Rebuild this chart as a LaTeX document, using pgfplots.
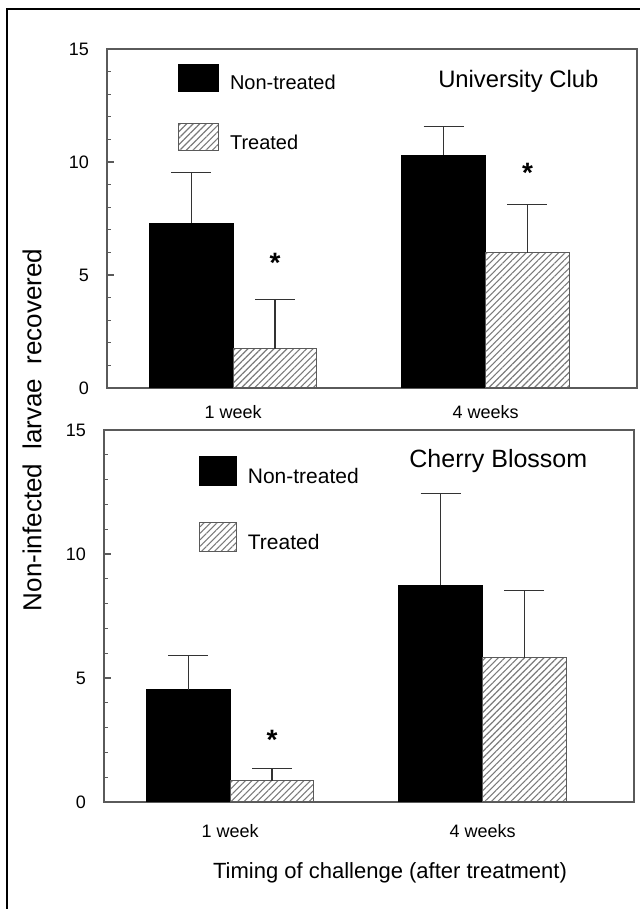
\documentclass[border=0pt]{standalone}
\usepackage{fontspec}
\setmainfont{Liberation Sans}
\usepackage{pgfplots}
\pgfplotsset{compat=1.18}
\usetikzlibrary{patterns.meta}
\definecolor{axgray}{HTML}{5A5A5A}
\definecolor{errgray}{HTML}{333333}
\definecolor{hatch}{HTML}{7A7A7A}
\pgfplotsset{
  panel/.style={
    scale only axis, width=265pt,
    xmin=0.5, xmax=2.6, ymin=0, ymax=15,
    xtick={1,2}, xticklabels={1 week,4 weeks},
    major x tick style={draw=none},
    ytick={0,5,10,15}, minor ytick={1,2,3,4,6,7,8,9,11,12,13,14},
    ytick pos=left, tick align=inside,
    major tick length=3.5pt, minor tick length=2pt,
    every tick/.style={axgray, line width=0.6pt},
    axis line style={axgray, line width=0.7pt},
    tick label style={font=\fontsize{9}{10}\selectfont},
    /pgf/number format/assume math mode=true,
    yticklabel style={xshift=-5.5pt},
    legend style={draw=none, fill=none, anchor=north west, inner sep=0pt, outer sep=0pt,
      legend cell align=left},
  },
  legtop/.style={legend image code/.code={\draw[##1] (0pt,-3.65pt) rectangle (20pt,9.85pt); \path (23.5pt,0pt);}},
  legbot/.style={legend image code/.code={\draw[##1] (0pt,-4pt) rectangle (18.5pt,10.5pt); \path (22pt,0pt);}},
  nt/.style={fill=black, draw=black, ybar, bar width=0.332, bar shift=0pt,
    error bars/.cd, y dir=plus, y explicit,
    error bar style={errgray, line width=0.6pt},
    error mark options={rotate=90, mark size=10pt, errgray, line width=0.6pt}},
  tr/.style={draw=axgray, line width=0.5pt,
    pattern={Lines[angle=45,distance=2.3pt,line width=0.55pt]}, pattern color=hatch,
    ybar, bar width=0.332, bar shift=0pt,
    error bars/.cd, y dir=plus, y explicit,
    error bar style={errgray, line width=0.6pt},
    error mark options={rotate=90, mark size=10pt, errgray, line width=0.6pt}},
}
\begin{document}
\begin{tikzpicture}
\useasboundingbox (0,0) rectangle (320pt,454.5pt);
\draw[line width=1.2pt] (3.5pt,0) -- (3.5pt,450pt) -- (320pt,450pt);

% ---------- top panel ----------
\begin{axis}[panel, at={(53.5pt,260.5pt)}, anchor=south west, height=169.5pt,
  xticklabel style={yshift=-5.2pt},
  legend style={at={(0.134,0.956)}, row sep=13.2pt, font=\fontsize{10}{12}\selectfont}]
\addplot[legtop, nt]
  coordinates {(0.834,7.29) +- (0,2.23) (1.834,10.30) +- (0,1.28)};
\addlegendentry{Non-treated}
\addplot[legtop, tr]
  coordinates {(1.166,1.73) +- (0,2.18) (2.166,5.99) +- (0,2.13)};
\addlegendentry{Treated}
\node[font=\fontsize{14}{14}\selectfont\bfseries, inner sep=0pt] at (axis cs:1.166,5.55) {*};
\node[font=\fontsize{14}{14}\selectfont\bfseries, inner sep=0pt] at (axis cs:2.166,9.52) {*};
\node[font=\fontsize{11.9}{13}\selectfont, anchor=base, inner sep=0pt] at (axis description cs:0.776,0.885) {University Club};
\end{axis}

% ---------- bottom panel ----------
\begin{axis}[panel, at={(52pt,53.5pt)}, anchor=south west, height=186pt,
  xticklabel style={yshift=-7.7pt},
  legend style={at={(0.179,0.929)}, row sep=15.7pt, font=\fontsize{10.5}{12}\selectfont}]
\addplot[legbot, nt]
  coordinates {(0.834,4.53) +- (0,1.39) (1.834,8.73) +- (0,3.71)};
\addlegendentry{Non-treated}
\addplot[legbot, tr]
  coordinates {(1.166,0.85) +- (0,0.50) (2.166,5.82) +- (0,2.70)};
\addlegendentry{Treated}
\node[font=\fontsize{14}{14}\selectfont\bfseries, inner sep=0pt] at (axis cs:1.166,2.51) {*};
\node[font=\fontsize{12.5}{14}\selectfont, anchor=base, inner sep=0pt] at (axis description cs:0.744,0.9005) {Cherry Blossom};
\end{axis}

\node[rotate=90, font=\fontsize{13}{15}\selectfont, inner sep=0pt] at (16pt,239.5pt)
  {Non-infected\hspace{0.55em}larvae\hspace{0.55em}recovered};
\node[font=\fontsize{11}{13}\selectfont, inner sep=0pt] at (195pt,18.2pt)
  {Timing of challenge (after treatment)};
\end{tikzpicture}
\end{document}
